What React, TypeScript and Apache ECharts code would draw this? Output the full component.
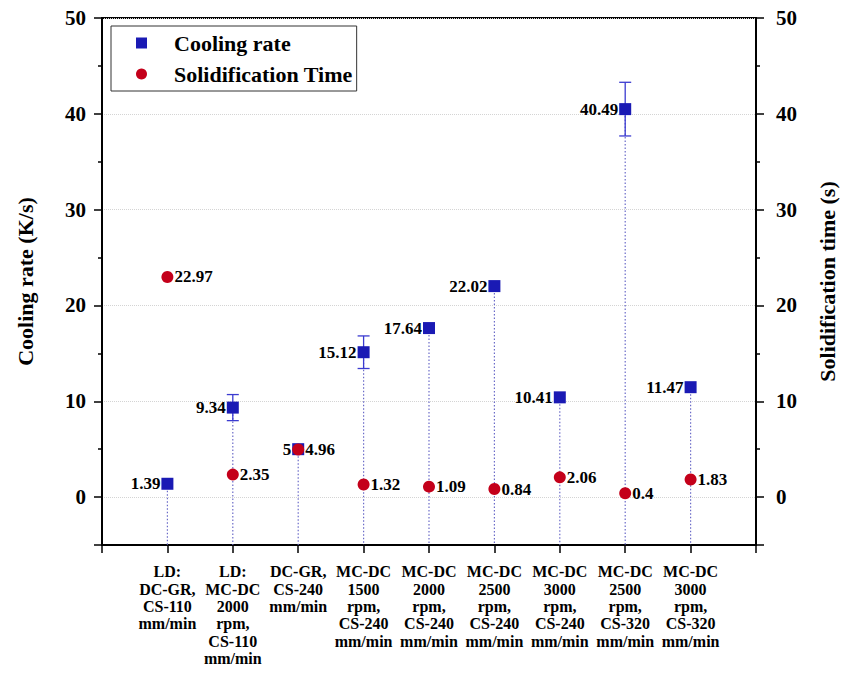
import React, { useEffect, useRef } from "react";
import * as echarts from "echarts";

const categories = [
  "LD:\nDC-GR,\nCS-110\nmm/min",
  "LD:\nMC-DC\n2000\nrpm,\nCS-110\nmm/min",
  "DC-GR,\nCS-240\nmm/min",
  "MC-DC\n1500\nrpm,\nCS-240\nmm/min",
  "MC-DC\n2000\nrpm,\nCS-240\nmm/min",
  "MC-DC\n2500\nrpm,\nCS-240\nmm/min",
  "MC-DC\n3000\nrpm,\nCS-240\nmm/min",
  "MC-DC\n2500\nrpm,\nCS-320\nmm/min",
  "MC-DC\n3000\nrpm,\nCS-320\nmm/min",
];
const coolingRate = [1.39, 9.34, 5, 15.12, 17.64, 22.02, 10.41, 40.49, 11.47];
const coolingErr = [0, 1.36, 0, 1.7, 0, 0, 0, 2.8, 0];
const solidTime = [22.97, 2.35, 4.96, 1.32, 1.09, 0.84, 2.06, 0.4, 1.83];

const FONT = "'Liberation Serif', 'Times New Roman', serif";
const BLUE = "#1a1ab4";
const RED = "#c4001a";
const Y_MIN = -5;
const Y_MAX = 50;

export default function App() {
  const ref = useRef<HTMLDivElement>(null);
  useEffect(() => {
    if (!ref.current) return;
    const chart = echarts.init(ref.current, undefined, { renderer: "svg" });
    const coolData = coolingRate.map((v, i) => [i + 1, v]);
    const solidData = solidTime.map((v, i) => [i + 1, v]);
    const auxData = coolingRate.map((v, i) => [i + 1, v, coolingErr[i]]);

    const yAxisCommon = (pos: "left" | "right", name: string, gap: number, labelMargin: number) => ({
      type: "value",
      position: pos,
      min: Y_MIN,
      max: Y_MAX,
      splitNumber: 5,
      name,
      nameLocation: "middle",
      nameRotate: 90,
      nameGap: gap,
      nameTextStyle: { fontFamily: FONT, fontWeight: "bold", fontSize: 22, color: "#000" },
      axisLine: { show: true, onZero: false, lineStyle: { color: "#000", width: 2 } },
      axisTick: { show: true, inside: false, length: 8, lineStyle: { color: "#000", width: 1.5 } },
      minorTick: { show: true, splitNumber: 2, length: 4, lineStyle: { color: "#000", width: 1.5 } },
      axisLabel: {
        margin: labelMargin,
        fontFamily: FONT,
        fontWeight: "bold",
        fontSize: 21,
        color: "#000",
        formatter: (v: number) => (v === Y_MIN ? "" : String(v)),
      },
      splitLine: pos === "left"
        ? { show: true, lineStyle: { color: "#d4d4d4", type: "dotted", width: 1 } }
        : { show: false },
    });

    chart.setOption({
      animation: false,
      backgroundColor: "#fff",
      grid: {
        left: 102,
        right: 86,
        top: 18,
        bottom: 137,
        show: true,
        borderColor: "#000",
        borderWidth: 2,
        backgroundColor: "transparent",
      },
      legend: {
        data: ["Cooling rate", "Solidification Time"],
        orient: "vertical",
        left: 111,
        top: 26,
        itemWidth: 11,
        itemHeight: 11,
        itemGap: 9,
        padding: [6, 4, 6, 25],
        borderColor: "#333",
        borderWidth: 1,
        textStyle: {
          fontFamily: FONT,
          fontWeight: "bold",
          fontSize: 22,
          color: "#000",
          lineHeight: 22,
          padding: [0, 0, 0, 22],
        },
      },
      xAxis: {
        type: "value",
        min: 0,
        max: 10,
        interval: 1,
        axisLine: { show: true, onZero: false, lineStyle: { color: "#000", width: 2 } },
        axisTick: { show: true, inside: false, length: 8, lineStyle: { color: "#000", width: 1.5 } },
        splitLine: { show: false },
        axisLabel: {
          margin: 18,
          fontFamily: FONT,
          fontWeight: "bold",
          fontSize: 16,
          lineHeight: 17.4,
          color: "#000",
          align: "center",
          formatter: (v: number) => categories[v - 1] ?? "",
        },
      },
      yAxis: [
        yAxisCommon("left", "Cooling rate (K/s)", 66, 16),
        yAxisCommon("right", "Solidification time (s)", 60, 20),
      ],
      series: [
        {
          type: "custom",
          name: "aux",
          xAxisIndex: 0,
          yAxisIndex: 0,
          silent: true,
          z: 1,
          data: auxData,
          encode: { x: 0, y: 1 },
          renderItem: (params: any, api: any) => {
            const x = api.value(0);
            const y = api.value(1);
            const e = api.value(2);
            const p = api.coord([x, y]);
            const pb = api.coord([x, Y_MIN]);
            const children: any[] = [
              {
                type: "line",
                shape: { x1: p[0], y1: p[1], x2: pb[0], y2: pb[1] },
                style: { stroke: "#6b6bc8", lineWidth: 1.2, lineDash: [1.5, 2] },
              },
            ];
            if (e > 0) {
              const top = api.coord([x, y + e]);
              const bot = api.coord([x, y - e]);
              const hw = 6;
              const st = { stroke: "#3b3bd0", lineWidth: 1.3 };
              children.push(
                { type: "line", shape: { x1: top[0], y1: top[1], x2: bot[0], y2: bot[1] }, style: st },
                { type: "line", shape: { x1: top[0] - hw, y1: top[1], x2: top[0] + hw, y2: top[1] }, style: st },
                { type: "line", shape: { x1: bot[0] - hw, y1: bot[1], x2: bot[0] + hw, y2: bot[1] }, style: st }
              );
            }
            return { type: "group", children };
          },
        },
        {
          type: "scatter",
          name: "Cooling rate",
          yAxisIndex: 0,
          symbol: "rect",
          symbolSize: 12,
          z: 3,
          itemStyle: { color: BLUE, opacity: 1 },
          data: coolData,
          label: {
            show: true,
            position: "left",
            distance: 1,
            fontFamily: FONT,
            fontWeight: "bold",
            fontSize: 17,
            color: "#000",
            formatter: (p: any) => String(coolingRate[p.dataIndex]),
          },
        },
        {
          type: "scatter",
          name: "Solidification Time",
          yAxisIndex: 1,
          symbol: "circle",
          symbolSize: 12,
          z: 4,
          itemStyle: { color: RED, opacity: 1 },
          data: solidData,
          label: {
            show: true,
            position: "right",
            distance: 1,
            fontFamily: FONT,
            fontWeight: "bold",
            fontSize: 17,
            color: "#000",
            formatter: (p: any) => String(solidTime[p.dataIndex]),
          },
        },
      ],
    });
    return () => chart.dispose();
  }, []);
  return <div ref={ref} style={{ width: 846, height: 682, position: "absolute", left: 0, top: 0 }} />;
}
